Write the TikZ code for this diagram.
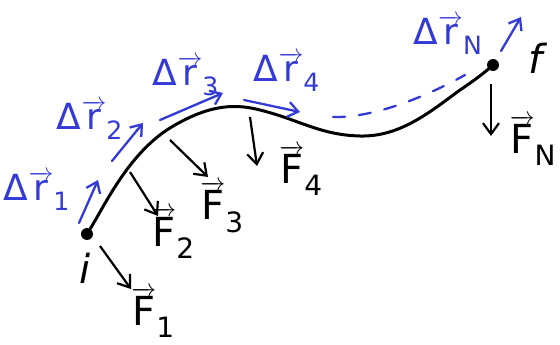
\documentclass[tikz,border=0pt]{standalone}
\usepackage{amsmath}
\usepackage{fontspec}
\setsansfont{DejaVu Sans}
\usetikzlibrary{arrows.meta}
\definecolor{handblue}{RGB}{52,58,214}
\newcommand{\hv}[1]{\overrightarrow{\textsf{#1}}}
\tikzset{
  path/.style={line width=3pt,black,line cap=round},
  force/.style={line width=2.2pt,black,-{Straight Barb[length=11pt,width=16pt,line width=2.2pt]}},
  disp/.style={line width=2.3pt,handblue,line cap=round,-{Straight Barb[length=10pt,width=15pt,line width=2.3pt]}},
  blab/.style={text=handblue,font=\sffamily\fontsize{36}{40}\selectfont,inner sep=0pt},
  klab/.style={text=black,font=\sffamily\fontsize{40}{44}\selectfont,inner sep=0pt},
  pt/.style={circle,fill=black,minimum size=12pt,inner sep=0pt}
}
\begin{document}
\begin{tikzpicture}[x=1pt,y=-1pt]
\useasboundingbox (0,0) rectangle (560,345);
\node[pt] (i) at (87,234) {};
\node[pt] (f) at (493,65) {};
% path
\draw[path] (i) .. controls (105,205) and (130,150) .. (175,125)
  .. controls (205,108) and (230,102) .. (260,110)
  .. controls (300,120) and (320,135) .. (360,136)
  .. controls (400,137) and (430,112) .. (460,90)
  .. controls (475,80) and (485,72) .. (f);
% dashed blue
\draw[handblue,line width=2.3pt,dash pattern=on 12pt off 14pt,line cap=round]
  (333,117) .. controls (370,118) and (420,100) .. (465,75);
% displacement arrows
\coordinate (d1a) at (79,223); \coordinate (d1b) at (98,180);
\coordinate (d2a) at (112,161); \coordinate (d2b) at (143,123);
\coordinate (d3a) at (160,120); \coordinate (d3b) at (223,93);
\coordinate (d4a) at (244,100); \coordinate (d4b) at (300,112);
\coordinate (dNa) at (501,51); \coordinate (dNb) at (521,17);
\draw[disp] (d1a) -- (d1b);
\draw[disp] (d2a) -- (d2b);
\draw[disp] (d3a) -- (d3b);
\draw[disp] (d4a) -- (d4b);
\draw[disp] (dNa) -- (dNb);
% labels blue
\node[blab] (l1) at (37,191) {Δ$\hv{r}_{\textsf{1}}$};
\node[blab] (l2) at (90,120) {Δ$\hv{r}_{\textsf{2}}$};
\node[blab] (l3) at (186,76) {Δ$\hv{r}_{\textsf{3}}$};
\node[blab] (l4) at (287,72) {Δ$\hv{r}_{\textsf{4}}$};
\node[blab] (lN) at (448,35) {Δ$\hv{r}_{\textsf{N}}$};
% forces
\coordinate (f1a) at (100,246); \coordinate (f1b) at (131,289);
\coordinate (f2a) at (130,172); \coordinate (f2b) at (158,216);
\coordinate (f3a) at (170,140); \coordinate (f3b) at (208,177);
\coordinate (f4a) at (250,117); \coordinate (f4b) at (257,166);
\coordinate (fNa) at (491,84); \coordinate (fNb) at (491,136);
\draw[force] (f1a) -- (f1b);
\draw[force] (f2a) -- (f2b);
\draw[force] (f3a) -- (f3b);
\draw[force] (f4a) -- (f4b);
\draw[force] (fNa) -- (fNb);
\node[klab] (F1) at (153,312) {$\hv{F}_{\textsf{1}}$};
\node[klab] (F2) at (173,233) {$\hv{F}_{\textsf{2}}$};
\node[klab] (F3) at (222,207) {$\hv{F}_{\textsf{3}}$};
\node[klab] (F4) at (301,170) {$\hv{F}_{\textsf{4}}$};
\node[klab] (FN) at (533,140) {$\hv{F}_{\textsf{N}}$};
\node[klab] (il) at (85,268) {\textit{i}};
\node[klab] (fl) at (538,58) {\textit{f}};
\end{tikzpicture}
\end{document}
